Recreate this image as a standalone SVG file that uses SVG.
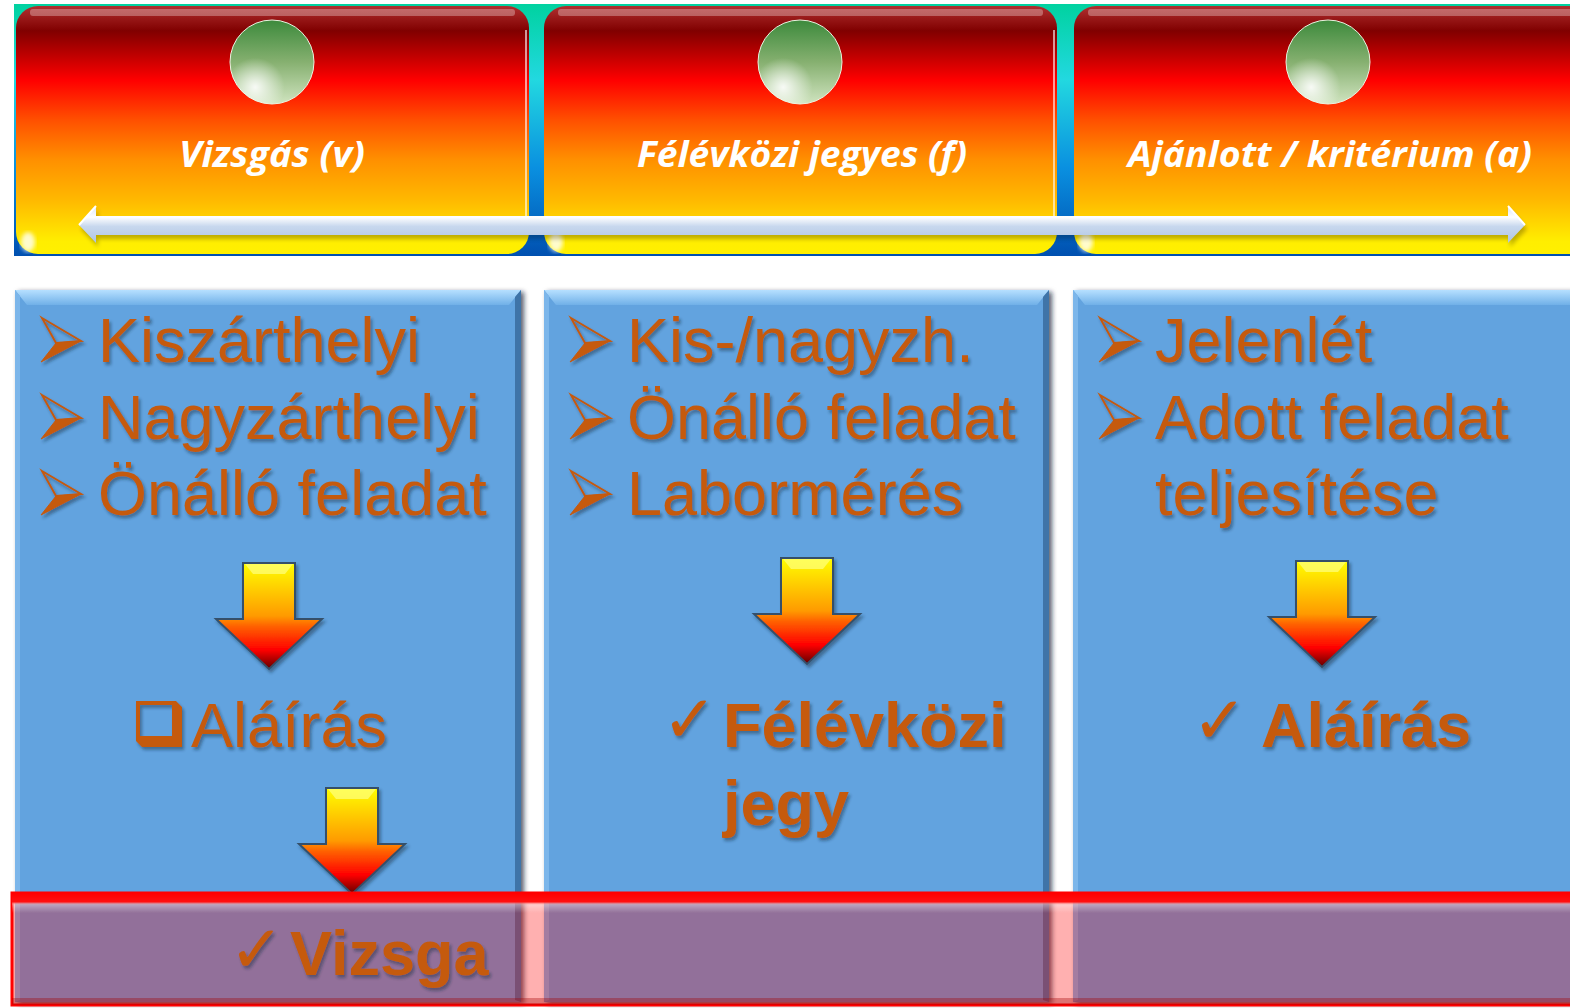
<svg xmlns="http://www.w3.org/2000/svg" width="1570" height="1008" viewBox="0 0 1570 1008">
<defs>
<style>
.title{font-family:"Open Sans","Liberation Sans",sans-serif;font-style:italic;font-weight:bold;font-size:35px;fill:#ffffff}
.item{font-family:"Liberation Sans",Arial,sans-serif;font-size:63px;fill:#c55a11;filter:url(#tsh)}
.bold{font-weight:bold}
.chk{font-family:"DejaVu Sans",sans-serif;font-weight:normal}
.bullet{filter:url(#tsh)}
.bul-up{fill:none;stroke:#c55a11;stroke-width:2;stroke-linejoin:miter}
.bul-lo{fill:#c55a11;stroke:#c55a11;stroke-width:1}
.lbox{fill:#62a3df}
</style>
<linearGradient id="gBar" x1="0" y1="0" x2="0" y2="1">
<stop offset="0" stop-color="#00d2a0"/><stop offset="0.3" stop-color="#22d8e0"/><stop offset="0.65" stop-color="#0a90e0"/><stop offset="1" stop-color="#0050b0"/>
</linearGradient>
<linearGradient id="gTop" x1="0" y1="0" x2="0" y2="1">
<stop offset="0" stop-color="#b03030"/><stop offset="0.1" stop-color="#800000"/><stop offset="0.3" stop-color="#ff0000"/><stop offset="0.46" stop-color="#ff5000"/><stop offset="0.62" stop-color="#ff9000"/><stop offset="0.78" stop-color="#ffb800"/><stop offset="0.95" stop-color="#ffee00"/><stop offset="1" stop-color="#fff000"/>
</linearGradient>
<linearGradient id="gOrb" x1="0" y1="0" x2="0" y2="1">
<stop offset="0" stop-color="#3c8a3c"/><stop offset="0.5" stop-color="#86b070"/><stop offset="1" stop-color="#d0e4c0"/>
</linearGradient>
<radialGradient id="gOrbHi" cx="0.3" cy="0.8" r="0.35">
<stop offset="0" stop-color="#ffffff" stop-opacity="0.9"/><stop offset="1" stop-color="#ffffff" stop-opacity="0"/>
</radialGradient>
<linearGradient id="gShaft" x1="0" y1="0" x2="0" y2="1">
<stop offset="0" stop-color="#d8e4f4"/><stop offset="0.3" stop-color="#ffffff"/><stop offset="0.55" stop-color="#c8d8ee"/><stop offset="1" stop-color="#aec4e2"/>
</linearGradient>
<linearGradient id="gBev" x1="0" y1="0" x2="0" y2="1">
<stop offset="0" stop-color="#b6e0ff"/><stop offset="1" stop-color="#70b0e8"/>
</linearGradient>
<linearGradient id="gArr" x1="0" y1="0" x2="0" y2="1">
<stop offset="0" stop-color="#ffff00"/><stop offset="0.5" stop-color="#ff9a00"/><stop offset="0.6" stop-color="#ff6000"/><stop offset="0.82" stop-color="#ff0000"/><stop offset="1" stop-color="#600000"/>
</linearGradient>
<linearGradient id="gBandTop" x1="0" y1="0" x2="0" y2="1">
<stop offset="0" stop-color="#ff0000"/><stop offset="0.45" stop-color="#ff1010"/><stop offset="0.6" stop-color="#ffffff" stop-opacity="0.35"/><stop offset="1" stop-color="#ffffff" stop-opacity="0"/>
</linearGradient>
<filter id="tsh" x="-10%" y="-10%" width="130%" height="140%">
<feDropShadow dx="2" dy="3" stdDeviation="1.5" flood-color="#1a2a40" flood-opacity="0.45"/>
</filter>
<filter id="bsh" x="-5%" y="-5%" width="115%" height="115%">
<feDropShadow dx="3" dy="2" stdDeviation="2.5" flood-color="#0a1a30" flood-opacity="0.7"/>
</filter>
<filter id="blur2"><feGaussianBlur stdDeviation="2"/></filter>
<path id="darr" d="M-26,0 H26 V56 H53 L0,106 L-53,56 H-26 Z"/>
<g id="bul">
<path class="bul-up" d="M1,-44 L40,-21 L15,-19 Z"/>
<path class="bul-lo" d="M0,0 L40,-21 L15,-19 Z"/>
</g>
</defs>

<rect width="1570" height="1008" fill="#ffffff"/>

<!-- top header background -->
<rect x="14" y="4" width="1560" height="252" fill="url(#gBar)"/>

<!-- top nodes -->
<g id="node-vizsgas">
<rect x="16" y="6" width="513" height="248" rx="22" fill="url(#gTop)"/>
<rect x="30" y="9" width="485" height="7" rx="3" fill="#ffffff" opacity="0.3"/>
<line x1="526" y1="30" x2="526" y2="235" stroke="#ffffff" stroke-width="2" opacity="0.6"/>
<ellipse cx="28" cy="242" rx="7" ry="10" fill="#ffffff" opacity="0.8" filter="url(#blur2)"/>
<circle cx="272" cy="62" r="42" fill="url(#gOrb)" stroke="#e8f4e0" stroke-width="1"/>
<circle cx="272" cy="62" r="42" fill="url(#gOrbHi)"/>
<text class="title" x="272" y="167" text-anchor="middle" textLength="186" lengthAdjust="spacingAndGlyphs">Vizsgás (v)</text>
</g>
<g id="node-felevkozi">
<rect x="544" y="6" width="513" height="248" rx="22" fill="url(#gTop)"/>
<rect x="558" y="9" width="485" height="7" rx="3" fill="#ffffff" opacity="0.3"/>
<line x1="1054" y1="30" x2="1054" y2="235" stroke="#ffffff" stroke-width="2" opacity="0.6"/>
<ellipse cx="556" cy="242" rx="7" ry="10" fill="#ffffff" opacity="0.8" filter="url(#blur2)"/>
<circle cx="800" cy="62" r="42" fill="url(#gOrb)" stroke="#e8f4e0" stroke-width="1"/>
<circle cx="800" cy="62" r="42" fill="url(#gOrbHi)"/>
<text class="title" x="802" y="167" text-anchor="middle" textLength="330" lengthAdjust="spacingAndGlyphs">Félévközi jegyes (f)</text>
</g>
<g id="node-ajanlott">
<rect x="1074" y="6" width="530" height="248" rx="22" fill="url(#gTop)"/>
<rect x="1088" y="9" width="500" height="7" rx="3" fill="#ffffff" opacity="0.3"/>
<ellipse cx="1086" cy="242" rx="7" ry="10" fill="#ffffff" opacity="0.8" filter="url(#blur2)"/>
<circle cx="1328" cy="62" r="42" fill="url(#gOrb)" stroke="#e8f4e0" stroke-width="1"/>
<circle cx="1328" cy="62" r="42" fill="url(#gOrbHi)"/>
<text class="title" x="1330" y="167" text-anchor="middle" textLength="404" lengthAdjust="spacingAndGlyphs">Ajánlott / kritérium (a)</text>
</g>

<!-- bottom column nodes -->
<g id="node-col1">
<rect class="lbox" x="15" y="290" width="506" height="712" filter="url(#bsh)"/>
<polygon points="15,290 521,290 509,305 27,305" fill="url(#gBev)"/>
<polygon points="15,290 20,296 20,1000 15,1002" fill="#7cb6ea"/>
<polygon points="521,290 515,297 515,1000 521,1002" fill="#3f74a8"/>
<g class="bullet"><use href="#bul" x="41" y="362"/><use href="#bul" x="41" y="439"/><use href="#bul" x="41" y="515"/></g>
<text class="item" x="98" y="362">Kiszárthelyi</text>
<text class="item" x="98" y="439">Nagyzárthelyi</text>
<text class="item" x="98" y="515">Önálló feladat</text>
<path d="M136,701 H176 L182,707 V747 H142 L136,741 Z M140,705 V736 H172 V705 Z" fill="#c55a11" fill-rule="evenodd" filter="url(#tsh)"/>
<text class="item" x="191" y="747">Aláírás</text>
</g>
<g id="node-col2">
<rect class="lbox" x="544" y="290" width="505" height="712" filter="url(#bsh)"/>
<polygon points="544,290 1049,290 1037,305 556,305" fill="url(#gBev)"/>
<polygon points="544,290 549,296 549,1000 544,1002" fill="#7cb6ea"/>
<polygon points="1049,290 1043,297 1043,1000 1049,1002" fill="#3f74a8"/>
<g class="bullet"><use href="#bul" x="570" y="362"/><use href="#bul" x="570" y="439"/><use href="#bul" x="570" y="515"/></g>
<text class="item" x="627" y="362">Kis-/nagyzh.</text>
<text class="item" x="627" y="439">Önálló feladat</text>
<text class="item" x="627" y="515">Labormérés</text>
<text class="item" x="662" y="742"><tspan class="chk" font-size="66">✓</tspan></text>
<text class="item bold" x="723" y="747">Félévközi</text>
<text class="item bold" x="723" y="825">jegy</text>
</g>
<g id="node-col3">
<rect class="lbox" x="1073" y="290" width="510" height="712" filter="url(#bsh)"/>
<polygon points="1073,290 1583,290 1571,305 1085,305" fill="url(#gBev)"/>
<polygon points="1073,290 1078,296 1078,1000 1073,1002" fill="#7cb6ea"/>
<g class="bullet"><use href="#bul" x="1099" y="362"/><use href="#bul" x="1099" y="439"/></g>
<text class="item" x="1155" y="362">Jelenlét</text>
<text class="item" x="1155" y="439">Adott feladat</text>
<text class="item" x="1155" y="515">teljesítése</text>
<text class="item" x="1192" y="743"><tspan class="chk" font-size="66">✓</tspan></text>
<text class="item bold" x="1261" y="747">Aláírás</text>
</g>

<!-- connectors -->
<g id="connectors">
<g id="double-arrow">
<path d="M96,216 H1508 V206 L1525,225 L1508,243 V235 H96 V243 L79,225 L96,206 Z" fill="#000" opacity="0.25" transform="translate(2,4)" filter="url(#blur2)"/>
<path d="M96,216 H1508 V206 L1525,225 L1508,243 V235 H96 V243 L79,225 L96,206 Z" fill="url(#gShaft)"/>
<path d="M79,225 L96,206 M1525,225 L1508,206" stroke="#ffffff" stroke-width="2"/>
</g>
<g fill="url(#gArr)" stroke="#35506a" stroke-width="2" stroke-linejoin="miter" filter="url(#tsh)">
<use href="#darr" transform="translate(269,563)"/>
<use href="#darr" transform="translate(352,788)"/>
<use href="#darr" transform="translate(807,558)"/>
<use href="#darr" transform="translate(1322,561)"/>
</g>
<g fill="#ffff80" opacity="0.7">
<polygon points="245,564 293,564 285,574 253,574"/>
<polygon points="328,789 376,789 368,799 336,799"/>
<polygon points="783,559 831,559 823,569 791,569"/>
<polygon points="1298,562 1346,562 1338,572 1306,572"/>
</g>
</g>

<!-- bottom band -->
<g id="node-vizsga">
<rect x="12" y="893" width="1570" height="112" fill="#ff0000" fill-opacity="0.31" stroke="#ff0000" stroke-width="3"/>
<rect x="12" y="893" width="1570" height="20" fill="url(#gBandTop)"/>
<rect x="12" y="998" width="1570" height="7" fill="#a00000" opacity="0.35"/>
<text class="item bold" x="229" y="972"><tspan class="chk" font-size="66" font-weight="normal">✓</tspan></text>
<text class="item bold" x="290" y="975">Vizsga</text>
</g>
</svg>
